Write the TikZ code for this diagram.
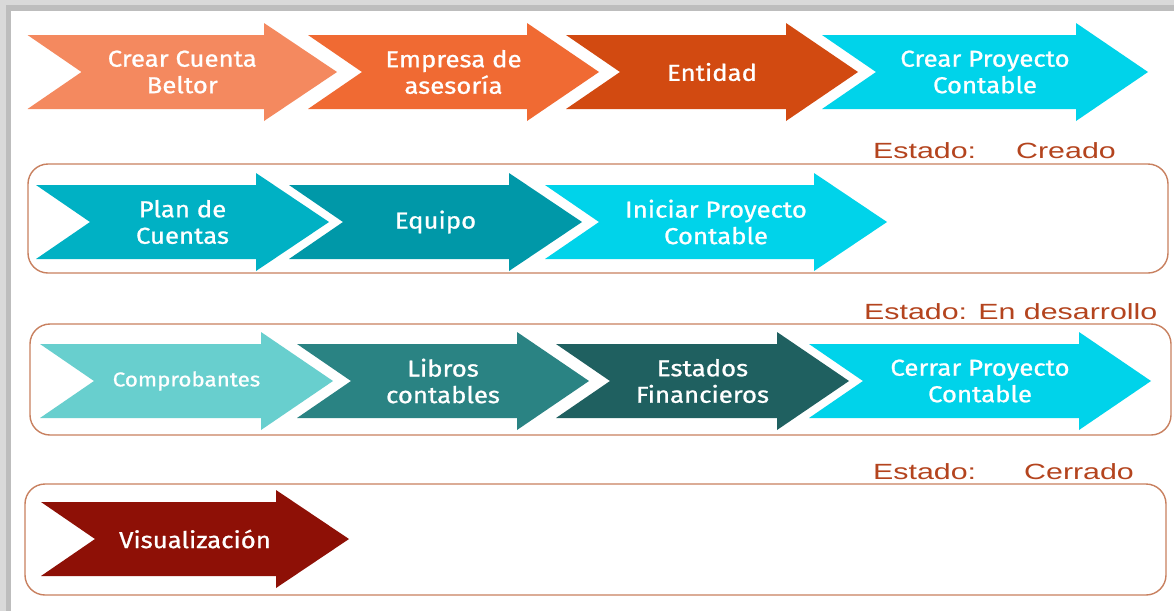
\documentclass[tikz,border=0pt]{standalone}
\usepackage{fontspec}
\setmainfont{Fira Sans}
\newfontfamily\arrowfont[FakeStretch=1.12,FakeBold=0.9]{Fira Sans}
\newfontfamily\estfont[FakeStretch=1.38]{Liberation Sans}
\definecolor{cA}{HTML}{F4895F}
\definecolor{cB}{HTML}{F06A33}
\definecolor{cC}{HTML}{D24A11}
\definecolor{cCyan}{HTML}{00D3EA}
\definecolor{cE}{HTML}{00B1C4}
\definecolor{cF}{HTML}{0098A8}
\definecolor{cH}{HTML}{68CFCE}
\definecolor{cI}{HTML}{2A8383}
\definecolor{cJ}{HTML}{1F6060}
\definecolor{cL}{HTML}{8E1006}
\definecolor{boxc}{HTML}{C8805F}
\definecolor{estc}{HTML}{B4441E}
\definecolor{frA}{HTML}{D9D9D9}
\definecolor{frB}{HTML}{BDBDBD}
\newcommand\chev[6]{%
  \fill[#6] (#2,#5-37) -- (#3,#5-37) -- (#3,#5-49) -- (#4,#5) -- (#3,#5+49)
    -- (#3,#5+37) -- (#2,#5+37) -- (#2+54,#5) -- cycle;
  \coordinate (#1) at ({(#2+#4)/2},#5);
}
\tikzset{
  lbl/.style={text=white, align=center, inner sep=0pt,
    font=\arrowfont\fontsize{23}{26.5}\selectfont},
  smalllbl/.style={text=white, align=center, inner sep=0pt,
    font=\arrowfont\fontsize{20}{24}\selectfont},
  est/.style={text=estc, anchor=base west, inner sep=0pt,
    font=\estfont\fontsize{22}{26}\selectfont},
  stage/.style={draw=boxc, line width=1.4pt, rounded corners=20pt},
}
\begin{document}
\begin{tikzpicture}[x=1pt,y=-1pt]
\useasboundingbox (0,0) rectangle (1174,611);
\fill[white] (0,0) rectangle (1174,611);
% frame
\fill[frA] (0,0) rectangle (1174,11);
\fill[frB] (6,5) rectangle (1174,11);
\fill[frA] (0,0) rectangle (6,611);
\fill[frB] (6,5) rectangle (11,611);
% stage boxes
\draw[stage] (28,164) rectangle (1168,273);
\draw[stage] (30,324) rectangle (1171,435);
\draw[stage] (25,484) rectangle (1166,595);
% row 1
\chev{a1}{27.5}{264}{337}{72}{cA}
\chev{a2}{308}{527}{599}{72}{cB}
\chev{a3}{566}{786}{858}{72}{cC}
\chev{a4}{822}{1076}{1148}{72}{cCyan}
\node[lbl] (t1) at (a1) {Crear Cuenta\\Beltor};
\node[lbl] (t2) at (a2) {Empresa de\\asesoría};
\node[lbl] (t3) at (a3) {Entidad};
\node[lbl] (t4) at (a4) {Crear Proyecto\\Contable};
% row 2
\chev{a5}{36}{256}{329}{222}{cE}
\chev{a6}{289}{509}{582}{222}{cF}
\chev{a7}{545}{814}{887}{222}{cCyan}
\node[lbl] (t5) at (a5) {Plan de\\Cuentas};
\node[lbl] (t6) at (a6) {Equipo};
\node[lbl] (t7) at (a7) {Iniciar Proyecto\\Contable};
% row 3
\chev{a8}{40}{261}{333}{381}{cH}
\chev{a9}{297}{517}{589}{381}{cI}
\chev{a10}{556}{777}{849}{381}{cJ}
\chev{a11}{809}{1079}{1151}{381}{cCyan}
\node[smalllbl] (t8) at (a8) {Comprobantes};
\node[lbl] (t9) at (a9) {Libros\\contables};
\node[lbl] (t10) at (a10) {Estados\\Financieros};
\node[lbl] (t11) at (a11) {Cerrar Proyecto\\Contable};
% row 4
\chev{a12}{41}{276}{349}{539}{cL}
\node[lbl] (t12) at (a12) {Visualización};
% state labels
\node[est] (e1a) at (873,158) {Estado:};
\node[est] (e1b) at (1016,158) {Creado};
\node[est] (e2) at (864,319) {Estado: En desarrollo};
\node[est] (e3a) at (873,479) {Estado:};
\node[est] (e3b) at (1024,479) {Cerrado};
\end{tikzpicture}
\end{document}
